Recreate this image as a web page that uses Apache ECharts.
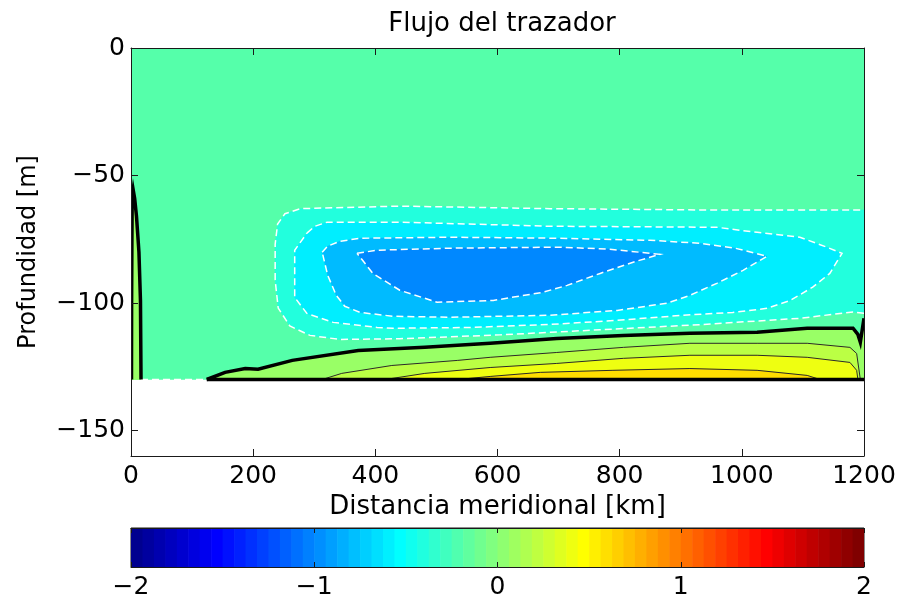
<!DOCTYPE html>
<html><head><meta charset="utf-8">
<script src="https://cdn.jsdelivr.net/npm/echarts@6/dist/echarts.min.js"></script>
<style>html,body{margin:0;padding:0;background:#fff}#c{width:902px;height:601px}</style>
</head><body><div id="c"></div>
<script>
// ---- texts & ticks ----
const titleText = 'Flujo del trazador';
const xName = 'Distancia meridional [km]';
const yName = 'Profundidad [m]';
const xTicks = [0, 200, 400, 600, 800, 1000, 1200];
const yTicks = [0, -50, -100, -150];
const cbTicks = [-2, -1, 0, 1, 2];

// ---- contour geometry: [distance km, depth m] ----
const domain = [[0, 0], [1200, 0], [1200, -130], [0, -130]];
// negative contours (white dashed)
const neg1 = [[1200,-104],[1182,-103.5],[1095,-106],[930,-108.5],[768,-110.5],[604,-112.5],[440,-114],[342,-114.3],[293,-112.7],[260,-109],[241,-102],[236,-91],[236,-77],[240,-69],[252,-65],[277,-63],[440,-62],[686,-63],[930,-63.5],[1200,-63.5]];
const neg2 = [[288,-72.6],[301,-69.9],[321,-68.3],[440,-68.3],[686,-69.9],[959,-70.3],[1025,-72.3],[1095,-74.2],[1139,-78.1],[1164,-80.5],[1144,-88.4],[1116,-93.8],[1079,-99],[1041,-102.1],[985,-103.7],[904,-104.8],[796,-106.8],[686,-108.4],[555,-109.6],[429,-109.9],[403,-109.6],[331,-107.6],[288,-104.1],[268,-97.8],[268,-79.3]];
const neg3 = [[313,-80.1],[322,-77.7],[342,-75.8],[375,-74.6],[522,-74.2],[702,-74.6],[850,-75.4],[931,-76.6],[989,-78.5],[1041,-81.7],[1002,-87.2],[959,-92.3],[915,-97],[877,-100.1],[796,-102.9],[686,-104.8],[522,-105.6],[429,-105.2],[375,-103.7],[350,-101.3],[336,-97],[322,-89.1]];
const neg4 = [[370,-80.5],[403,-79.3],[522,-78.5],[702,-78.1],[784,-78.9],[833,-80.1],[866,-80.9],[822,-84],[768,-88.4],[714,-93.1],[674,-95.8],[593,-99],[501,-99.7],[440,-95],[396,-88.4]];
// zero contour (thick black)
const zeroLine = [[124,-130],[154,-127.2],[187,-125.7],[208,-126],[264,-122.5],[372,-118.6],[481,-117.4],[588,-115.8],[697,-113.9],[806,-112.7],[915,-111.9],[1025,-111.5],[1107,-109.9],[1182,-109.9],[1190,-112.3],[1194,-115.4],[1197,-110.7],[1200,-106]];
const leftStrip = [[0.8,-130],[1,-100],[1.5,-75],[2,-58],[3.5,-55.5],[6,-59],[9,-66],[13,-80],[15.5,-99],[16.4,-130]];
// positive contours (thin black)
const pos1 = [[313,-130],[345,-127.6],[427,-124.5],[535,-122.5],[588,-121.3],[697,-119.4],[806,-117.4],[915,-115.8],[1025,-115.8],[1107,-115.8],[1177,-117.4],[1188,-119.8],[1194,-130]];
const pos2 = [[416,-130],[481,-127.6],[588,-125.3],[697,-123.7],[806,-121.7],[915,-120.5],[1025,-120.5],[1107,-121.3],[1177,-123.3],[1188,-126.4],[1190,-130]];
const pos3 = [[535,-130],[588,-128.8],[670,-127.2],[789,-126.4],[915,-125.7],[1025,-126.4],[1107,-128.4],[1128,-130]];
// bottom boundary segments
const bottomZero = [[124,-130],[1200,-130]];
const bottomNeg = [[16.4,-130],[124,-130]];

// ---- styles ----
const FONT = 'DejaVu Sans';
const C = {bg:'#55FFAA', n1:'#22FFDD', n2:'#00EEFF', n3:'#00BBFF', n4:'#0088FF', p1:'#99FF66', p2:'#BBFF44', p3:'#EEFF11', p4:'#FFDD00'};
const LINE = {
  neg: {stroke:'#ffffff', lineWidth:1.5, lineDash:[7,4]},
  pos: {stroke:'#2a2a2a', lineWidth:1},
  zero:{stroke:'#000000', lineWidth:3.5}
};
const closeRing = p => p.concat([p[0]]);
const shapes = [
  {pts: domain, fill: C.bg},
  {pts: neg1, fill: C.n1},
  {pts: neg2, fill: C.n2},
  {pts: neg3, fill: C.n3},
  {pts: neg4, fill: C.n4},
  {pts: zeroLine.concat([[1200,-130]]), fill: C.p1},
  {pts: pos1, fill: C.p2},
  {pts: pos2, fill: C.p3},
  {pts: pos3, fill: C.p4},
  {pts: leftStrip, fill: C.p1},
  {pts: neg1, line:'neg'},
  {pts: closeRing(neg2), line:'neg'},
  {pts: closeRing(neg3), line:'neg'},
  {pts: closeRing(neg4), line:'neg'},
  {pts: pos1, line:'pos'},
  {pts: pos2, line:'pos'},
  {pts: pos3, line:'pos'},
  {pts: bottomNeg, line:'neg'},
  {pts: zeroLine, line:'zero'},
  {pts: bottomZero, line:'zero'},
  {pts: leftStrip, line:'zero'}
];

function jet(i) {
  const t = (i + 1) / 64;
  const f = v => Math.round(255 * Math.max(0, Math.min(1, 1.5 - Math.abs(4 * t - v))));
  return 'rgb(' + f(3) + ',' + f(2) + ',' + f(1) + ')';
}
const minus = v => String(v).replace('-', '\u2212');
const axisCol = '#1a1a1a';

const chart = echarts.init(document.getElementById('c'), null, {renderer: 'canvas'});
chart.setOption({
  backgroundColor: '#ffffff',
  animation: false,
  title: {
    text: titleText, left: 497, top: 6, textAlign: 'center',
    textStyle: {fontFamily: FONT, fontSize: 26, fontWeight: 'normal', color: '#000'}
  },
  grid: [
    {left: 131, top: 48, width: 733, height: 408, containLabel: false, outerBoundsMode: 'none'},
    {left: 131, top: 528, width: 733, height: 39, containLabel: false, outerBoundsMode: 'none',
     show: true, borderColor: axisCol, borderWidth: 1, backgroundColor: 'transparent'}
  ],
  xAxis: [
    {gridIndex: 0, type: 'value', min: 0, max: 1200, interval: 200, position: 'bottom', z: 10,
     axisLine: {show: true, onZero: false, lineStyle: {color: axisCol, width: 1}},
     axisTick: {show: true, inside: true, length: 7, customValues: xTicks, lineStyle: {color: axisCol}},
     axisLabel: {fontFamily: FONT, fontSize: 25, color: '#000', margin: 8,
                 customValues: xTicks, formatter: v => String(v)},
     splitLine: {show: false},
     name: xName, nameLocation: 'middle', nameGap: 37,
     nameTextStyle: {fontFamily: FONT, fontSize: 26, color: '#000'}},
    {gridIndex: 0, type: 'value', min: 0, max: 1200, interval: 200, position: 'top', z: 10,
     axisLine: {show: true, onZero: false, lineStyle: {color: axisCol, width: 1}},
     axisTick: {show: true, inside: true, length: 7, lineStyle: {color: axisCol}},
     axisLabel: {show: false}, splitLine: {show: false}},
    {gridIndex: 1, type: 'value', min: -2, max: 2, interval: 1, position: 'bottom', z: 10,
     axisLine: {show: true, onZero: false, lineStyle: {color: axisCol, width: 1}},
     axisTick: {show: true, inside: true, length: 5, lineStyle: {color: axisCol}},
     axisLabel: {fontFamily: FONT, fontSize: 25, color: '#000', margin: 8,
                 customValues: cbTicks, formatter: v => minus(v)},
     splitLine: {show: false}},
    {gridIndex: 1, type: 'value', min: -2, max: 2, interval: 1, position: 'top', z: 10,
     axisLine: {show: true, onZero: false, lineStyle: {color: axisCol, width: 1}},
     axisTick: {show: true, inside: true, length: 5, lineStyle: {color: axisCol}},
     axisLabel: {show: false}, splitLine: {show: false}}
  ],
  yAxis: [
    {gridIndex: 0, type: 'value', min: -160, max: 0, position: 'left', z: 10,
     axisLine: {show: true, onZero: false, lineStyle: {color: axisCol, width: 1}},
     axisTick: {show: true, inside: true, length: 7, customValues: yTicks, lineStyle: {color: axisCol}},
     axisLabel: {fontFamily: FONT, fontSize: 25, color: '#000', margin: 6,
                 customValues: yTicks, formatter: v => minus(v)},
     splitLine: {show: false},
     name: yName, nameLocation: 'middle', nameGap: 90, nameRotate: 90,
     nameTextStyle: {fontFamily: FONT, fontSize: 24, color: '#000'}},
    {gridIndex: 0, type: 'value', min: -160, max: 0, position: 'right', z: 10,
     axisLine: {show: true, onZero: false, lineStyle: {color: axisCol, width: 1}},
     axisTick: {show: true, inside: true, length: 7, customValues: yTicks, lineStyle: {color: axisCol}},
     axisLabel: {show: false}, splitLine: {show: false}},
    {gridIndex: 1, type: 'value', min: 0, max: 1, show: false}
  ],
  series: [
    {
      type: 'custom', xAxisIndex: 0, yAxisIndex: 0, clip: true, z: 2, silent: true,
      data: shapes.map((s, i) => [i]),
      renderItem: function (params, api) {
        const s = shapes[params.dataIndex];
        const points = s.pts.map(p => api.coord(p));
        if (s.fill) {
          return {type: 'polygon', shape: {points: points}, style: {fill: s.fill, stroke: s.fill, lineWidth: 0.5}};
        }
        const L = LINE[s.line];
        return {type: 'polyline', shape: {points: points},
                style: {fill: null, stroke: L.stroke, lineWidth: L.lineWidth, lineDash: L.lineDash || null}};
      }
    },
    {
      type: 'custom', xAxisIndex: 2, yAxisIndex: 2, clip: true, z: 2, silent: true,
      data: Array.from({length: 64}, (_, i) => [i]),
      renderItem: function (params, api) {
        const i = params.dataIndex;
        const x0 = -2 + i * 4 / 64, x1 = x0 + 4 / 64;
        const a = api.coord([x0, 1]), b = api.coord([x1, 0]);
        return {type: 'rect', shape: {x: a[0], y: a[1], width: b[0] - a[0] + 0.6, height: b[1] - a[1]},
                style: {fill: jet(i)}};
      }
    }
  ]
});
</script>
</body></html>
